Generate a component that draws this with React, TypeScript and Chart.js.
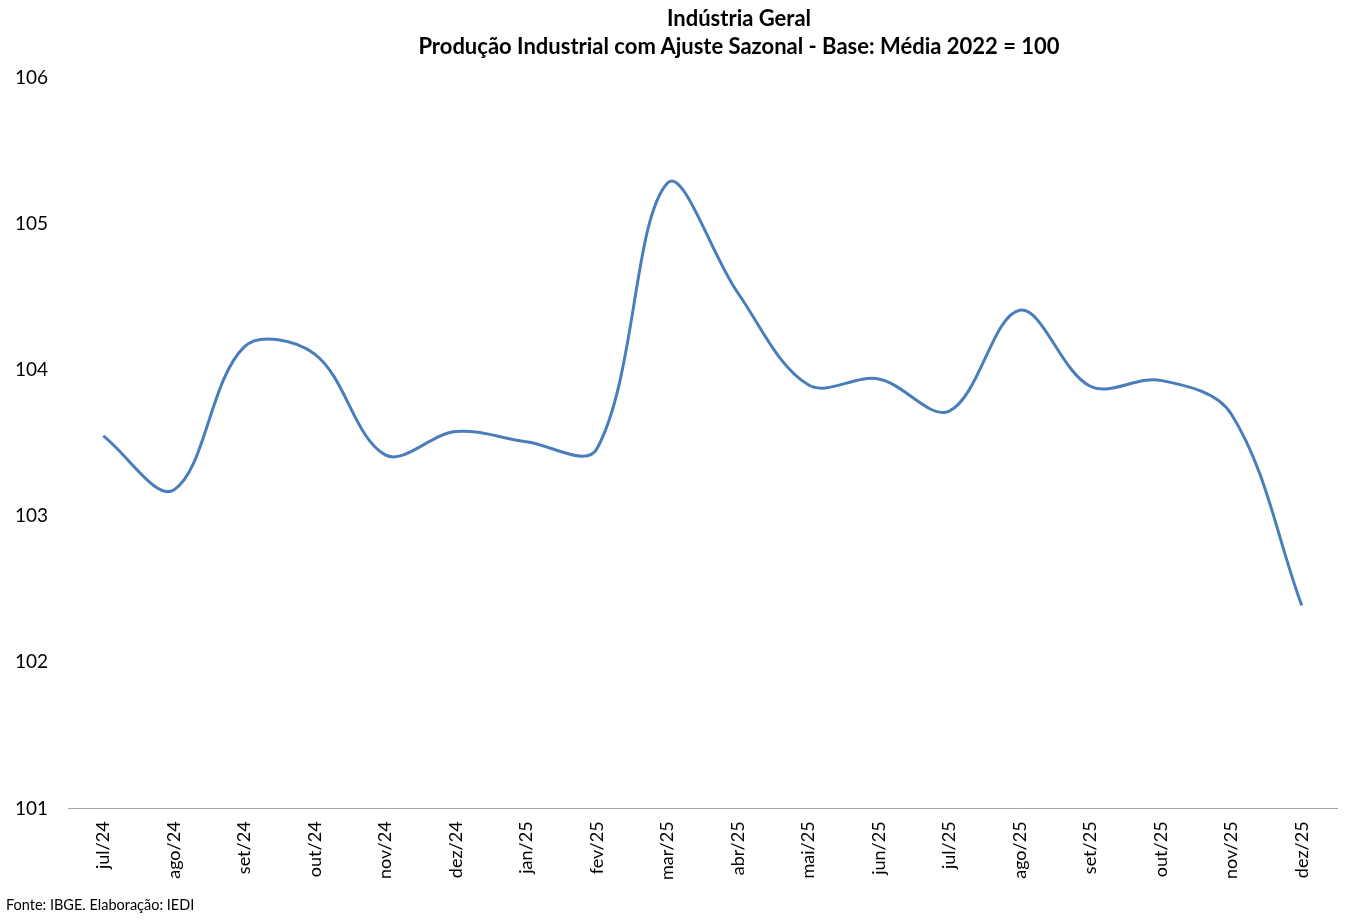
import React, { useEffect, useRef } from "react";
import { Chart, registerables } from "chart.js";

Chart.register(...registerables);

const categories = [
  "jul/24", "ago/24", "set/24", "out/24", "nov/24", "dez/24",
  "jan/25", "fev/25", "mar/25", "abr/25", "mai/25", "jun/25",
  "jul/25", "ago/25", "set/25", "out/25", "nov/25", "dez/25",
];
const producao = [
  103.55, 103.18, 104.16, 104.11, 103.42, 103.58,
  103.51, 103.46, 105.28, 104.53, 103.9, 103.94,
  103.72, 104.41, 103.89, 103.93, 103.7, 102.39,
];
const titleLines = [
  "Indústria Geral",
  "Produção Industrial com Ajuste Sazonal - Base: Média 2022 = 100",
];
const source = "Fonte: IBGE. Elaboração: IEDI";
const yMin = 101;
const yMax = 106;

const FONT = "Lato, 'Open Sans', sans-serif";

export default function App() {
  const ref = useRef<HTMLCanvasElement>(null);
  useEffect(() => {
    if (!ref.current) return;
    const chart = new Chart(ref.current, {
      type: "line",
      data: {
        labels: categories,
        datasets: [
          {
            data: producao,
            borderColor: "#4a7ebb",
            borderWidth: 3,
            pointRadius: 0,
            tension: 0.35,
            fill: false,
          },
        ],
      },
      options: {
        animation: false,
        responsive: false,
        maintainAspectRatio: false,
        layout: { padding: { top: 78, left: 8, right: 12, bottom: 27 } },
        plugins: {
          legend: { display: false },
          tooltip: { enabled: false },
          title: { display: false },
        },
        scales: {
          x: {
            offset: true,
            grid: { display: false, drawTicks: false },
            border: { display: true, color: "#a6a6a6", width: 1 },
            ticks: {
              color: "#000",
              font: { family: FONT, size: 18 },
              minRotation: 90,
              maxRotation: 90,
              padding: 13,
              autoSkip: false,
            },
          },
          y: {
            min: yMin,
            max: yMax,
            grid: { display: false, drawTicks: false },
            border: { display: false },
            ticks: {
              stepSize: 1,
              color: "#000",
              font: { family: FONT, size: 19 },
              padding: 20,
            },
            afterFit: (s: any) => {
              s.width = 60;
            },
          },
        },
      },
    });
    return () => chart.destroy();
  }, []);
  const titleStyle: React.CSSProperties = {
    position: "absolute",
    left: 739 - 500,
    width: 1000,
    textAlign: "center",
    fontFamily: FONT,
    fontWeight: "bold",
    fontSize: 22,
    color: "#000",
    whiteSpace: "nowrap",
    lineHeight: "26px",
  };
  return (
    <div style={{ position: "absolute", left: 0, top: 0, width: 1349, height: 920, background: "#fff" }}>
      <canvas ref={ref} width={1349} height={920} style={{ width: 1349, height: 920 }} />
      <div style={{ ...titleStyle, top: 5 }}>{titleLines[0]}</div>
      <div style={{ ...titleStyle, top: 33 }}>{titleLines[1]}</div>
      <div
        style={{
          position: "absolute",
          left: 6,
          top: 896,
          fontFamily: FONT,
          fontSize: 14.5,
          lineHeight: "18px",
          color: "#000",
        }}
      >
        {source}
      </div>
    </div>
  );
}
